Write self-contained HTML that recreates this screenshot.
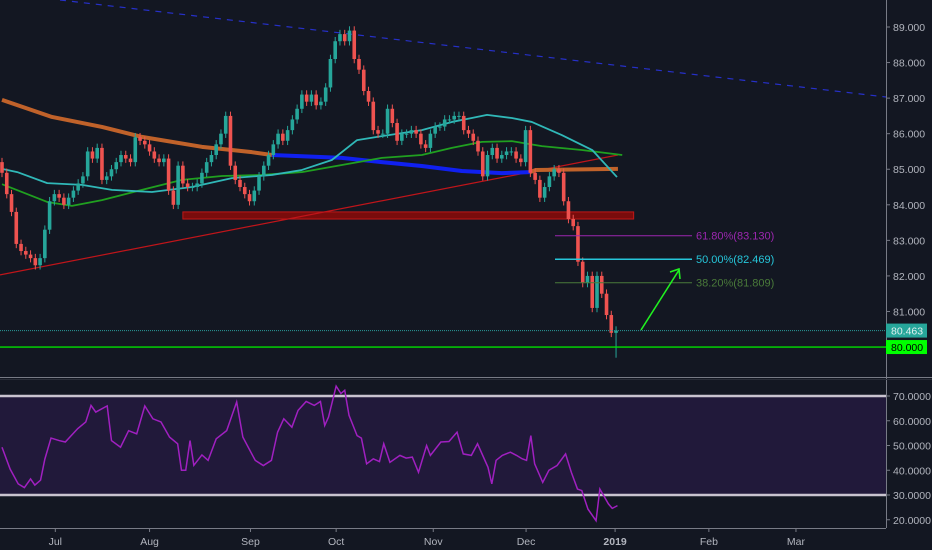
<!DOCTYPE html>
<html><head><meta charset="utf-8"><style>
html,body{margin:0;padding:0;background:#131722;}
svg{display:block;font-family:"Liberation Sans",sans-serif;}
</style></head><body>
<svg id="c" width="932" height="550" xmlns="http://www.w3.org/2000/svg">
<rect x="0" y="0" width="932" height="550" fill="#131722"/>
<g id="rsiBand"></g>
<g id="main"></g>
<g id="axes"></g>
</svg>
<script>
const closes=[84.9,84.3,83.8,82.9,82.7,82.6,82.5,82.3,82.5,83.3,
84.1,84.3,84.2,84.0,84.2,84.4,84.6,84.8,85.5,85.3,
85.6,84.7,84.8,85.0,85.2,85.4,85.3,85.2,85.9,85.8,
85.7,85.5,85.3,85.2,85.3,84.4,84.0,85.1,84.6,84.5,
84.5,84.6,84.9,85.2,85.4,85.7,86.0,86.5,85.1,84.7,
84.5,84.3,84.1,84.4,84.8,85.1,85.4,85.7,86.0,85.8,86.1,86.4,
86.7,87.1,86.9,87.1,86.8,86.9,87.3,88.1,88.6,88.8,88.6,
88.9,88.1,87.8,87.2,86.9,86.1,86.0,86.0,86.7,86.3,
85.8,86.0,86.0,86.1,86.0,85.7,85.6,86.0,86.2,86.2,
86.4,86.4,86.5,86.5,86.1,86.0,85.8,85.5,84.8,85.4,
85.6,85.3,85.4,85.5,85.5,85.3,85.2,86.1,84.9,84.7,
84.2,84.5,84.8,85.0,84.9,84.1,83.6,
83.4,82.4,81.8,82.0,81.1,82.0,81.5,80.9,80.4,80.463];
const firstOpen=85.2;
const lastLow=79.7;
const ma50Days=[0,3.2,9.5,16.8,23.1,31.5,39.9,48.3,56.7,63,69.3,74.6,79.8,88.2,94.5,98.7,101.9,107.1,111.3,117.6,124,129.2];
const ma50Vals=[85.01,84.92,84.61,84.56,84.42,84.36,84.5,84.75,84.84,84.98,85.26,85.82,85.93,86.1,86.33,86.44,86.53,86.44,86.33,85.96,85.54,84.78];
const ma100Days=[0,9.5,14.7,21,29.4,37.8,46.2,54.6,63,71.4,79.8,88.2,94.5,100.8,107.1,113.4,121.8,130.3];
const ma100Vals=[84.58,84.08,83.97,84.13,84.42,84.7,84.81,84.84,84.92,85.12,85.32,85.4,85.6,85.77,85.79,85.65,85.54,85.4];
const ma200aDays=[0,10.5,21,29.4,42,52.5,56.7];
const ma200aVals=[86.95,86.47,86.19,85.91,85.63,85.48,85.4];
const ma200bDays=[56.7,71.4,79.8,88.2,96.6,105,110.9];
const ma200bVals=[85.4,85.32,85.2,85.09,84.95,84.89,84.92];
const ma200cDays=[110.9,112.2,129.4];
const ma200cVals=[84.92,84.98,85.01];
const rsiDays=[0,1.7,3.4,4.7,6,6.9,8.1,9,10.3,12,13.3,15.9,17.6,18.7,19.7,22.1,23,24.9,26.6,28.3,30,31.7,33.4,35.2,36.9,37.7,38.6,39.5,40.3,42,43.3,45,47.2,49.3,50.6,53.2,54.9,56.6,57.9,59.2,60.9,62.2,63.9,65.6,66.9,67.8,68.6,70.2,71.2,72,72.9,74.6,75.5,76.6,78,79.3,80.2,81.5,83.6,84.9,86.2,87.5,89.2,90,92.2,93.9,95.6,96.9,98.6,99.9,102.1,102.9,103.8,105.1,106.8,108.1,109.3,110.2,111.1,111.9,113.6,114.9,116.6,118.4,119.6,120.9,121.8,123.1,124.8,125.6,127.4,128.2,129.3];
const rsiVals=[49.3,40.5,34.5,33,36.5,34,36,44.5,53,52,51.4,56.8,59.5,66.2,63.5,66,52,49.3,56,54.7,66,60.8,59.5,53.4,50.7,40,40,52,42,46.2,44,52.7,56,67.6,53.4,44,41.9,44,55.4,60.8,57.4,64.2,67.8,66.2,67.8,58.1,61.5,74,71,72.3,62.2,54,53,42.6,44.6,43.5,50.7,43.2,46,44.9,45.3,39.2,50,46,51.4,51.6,55.4,46.6,46,50.7,41.2,34.5,44,46,47.3,46,44.6,44,54,42.6,35.1,40,41.9,46.6,39.2,32.4,31.8,24.3,19.6,32.4,26.4,24.6,25.7];
const priceTicks=[81,82,83,84,85,86,87,88,89];
const rsiTicks=[20,30,40,50,60,70];
const monthLabels=["Jul","Aug","Sep","Oct","Nov","Dec","2019","Feb","Mar"];
const monthDays=[11.2,31,52.2,70.2,90.6,110.1,128.8,148.5,166.8];
const fibLevels=[83.130,82.469,81.809];
const fibNames=["61.80%(83.130)","50.00%(82.469)","38.20%(81.809)"];

const NS="http://www.w3.org/2000/svg";
const xD=d=>2+d*4.76;
const yP=p=>27+(89-p)*35.56;
const yR=v=>396+(70-v)*2.475;
function mk(parent,tag,attrs,text){const e=document.createElementNS(NS,tag);for(const k in attrs)e.setAttribute(k,attrs[k]);if(text!==undefined)e.textContent=text;parent.appendChild(e);return e;}
const main=document.getElementById('main'),axes=document.getElementById('axes'),rb=document.getElementById('rsiBand');

let e=mk(rb,'rect',{x:0,y:yR(70),width:886,height:yR(30)-yR(70),fill:'#21193a'});


[70,30].forEach(v=>{let l=mk(rb,'line',{x1:0,x2:886,y1:yR(v),y2:yR(v),stroke:'#c9c3cf','stroke-width':2.5});

});
let rp=rsiDays.map((d,i)=>xD(d)+','+yR(rsiVals[i])).join(' ');
e=mk(rb,'polyline',{points:rp,fill:'none',stroke:'#a020c0','stroke-width':1.5});



e=mk(main,'line',{x1:60,y1:0,x2:886,y2:97,stroke:'#2630c8','stroke-width':1.2,'stroke-dasharray':'6 6'});


e=mk(main,'rect',{x:xD(38),y:yP(83.8),width:xD(132.7)-xD(38),height:yP(83.6)-yP(83.8),fill:'#7a0c0c',stroke:'#c01818','stroke-width':1});


e=mk(main,'line',{x1:0,y1:yP(82.03),x2:xD(129.4),y2:yP(85.4),stroke:'#c0151a','stroke-width':1.2});



function line(days,vals,color,w,name){const p=days.map((d,i)=>xD(d)+','+yP(vals[i])).join(' ');const el=mk(main,'polyline',{points:p,fill:'none',stroke:color,'stroke-width':w,'stroke-linejoin':'round'});

}
line(ma200aDays,ma200aVals,'#c0622a',4,'ma200-orange');
line(ma200bDays,ma200bVals,'#1020f0',4,'ma200-blue');
line(ma200cDays,ma200cVals,'#c0622a',4,'ma200-orange-end');
line(ma100Days,ma100Vals,'#20a020',1.8,'ma100-green');
line(ma50Days,ma50Vals,'#30b8b8',1.8,'ma50-cyan');

closes.forEach((c,i)=>{const o=i===0?firstOpen:closes[i-1];const up=c>=o;const col=up?'#26a69a':'#ef5350';
const hi=Math.max(o,c)+0.12;const lo=i===closes.length-1?lastLow:Math.min(o,c)-0.12;const x=xD(i);
const g=mk(main,'g',{});


mk(g,'line',{x1:x,x2:x,y1:yP(hi),y2:yP(lo),stroke:col,'stroke-width':1});
const t=Math.min(yP(o),yP(c));mk(g,'rect',{x:x-1.8,y:t,width:3.6,height:Math.max(1,Math.abs(yP(o)-yP(c))),fill:col});});

const fibCols=['#9c27b0','#26c6da','#4a7a3a'];
fibLevels.forEach((f,i)=>{let l=mk(main,'line',{x1:555,x2:692,y1:yP(f),y2:yP(f),stroke:fibCols[i],'stroke-width':i===1?1.5:1});


let t=mk(main,'text',{x:696,y:yP(f)+4,fill:fibCols[i],'font-size':11},fibNames[i]);

});
e=mk(main,'g',{});


mk(e,'line',{x1:641,y1:330,x2:679,y2:270,stroke:'#20f020','stroke-width':1.6});
mk(e,'polyline',{points:'670,272 679,269 680,279',fill:'none',stroke:'#20f020','stroke-width':1.6});
e=mk(main,'line',{x1:0,x2:886,y1:yP(80.463),y2:yP(80.463),stroke:'#2a9a9a','stroke-width':1,'stroke-dasharray':'1 1'});


e=mk(main,'line',{x1:0,x2:886,y1:yP(80),y2:yP(80),stroke:'#00e000','stroke-width':1.3});



mk(axes,'line',{x1:886.5,x2:886.5,y1:0,y2:528,stroke:'#787b86','stroke-width':1});
mk(axes,'line',{x1:0,x2:932,y1:377.5,y2:377.5,stroke:'#787b86','stroke-width':1});
mk(axes,'line',{x1:0,x2:932,y1:379.5,y2:379.5,stroke:'#2a2e39','stroke-width':1});
mk(axes,'line',{x1:0,x2:886,y1:528.5,y2:528.5,stroke:'#787b86','stroke-width':1});
priceTicks.forEach(p=>{mk(axes,'line',{x1:886,x2:890,y1:yP(p),y2:yP(p),stroke:'#787b86'});
let t=mk(axes,'text',{x:893,y:yP(p)+4,fill:'#b2b5be','font-size':10.5},p.toFixed(3));

});
rsiTicks.forEach(v=>{mk(axes,'line',{x1:886,x2:890,y1:yR(v),y2:yR(v),stroke:'#787b86'});
let t=mk(axes,'text',{x:893,y:yR(v)+4,fill:'#b2b5be','font-size':10.5},v.toFixed(4));

});
monthLabels.forEach((m,i)=>{const x=xD(monthDays[i]);mk(axes,'line',{x1:x,x2:x,y1:528,y2:532,stroke:'#787b86'});
let t=mk(axes,'text',{x:x,y:545,fill:'#b2b5be','font-size':10.5,'text-anchor':'middle','font-weight':m==='2019'?'bold':'normal'},m);

});
e=mk(axes,'g',{});


mk(e,'rect',{x:886,y:yP(80.463)-7,width:41,height:14,fill:'#26a69a'});
mk(e,'text',{x:891,y:yP(80.463)+4,fill:'#e0f0f0','font-size':10.5},'80.463');
e=mk(axes,'g',{});


mk(e,'rect',{x:886,y:yP(80)-7,width:41,height:14,fill:'#00ff00'});
mk(e,'text',{x:891,y:yP(80)+4,fill:'#000','font-size':10.5},'80.000');
</script>
</body></html>
